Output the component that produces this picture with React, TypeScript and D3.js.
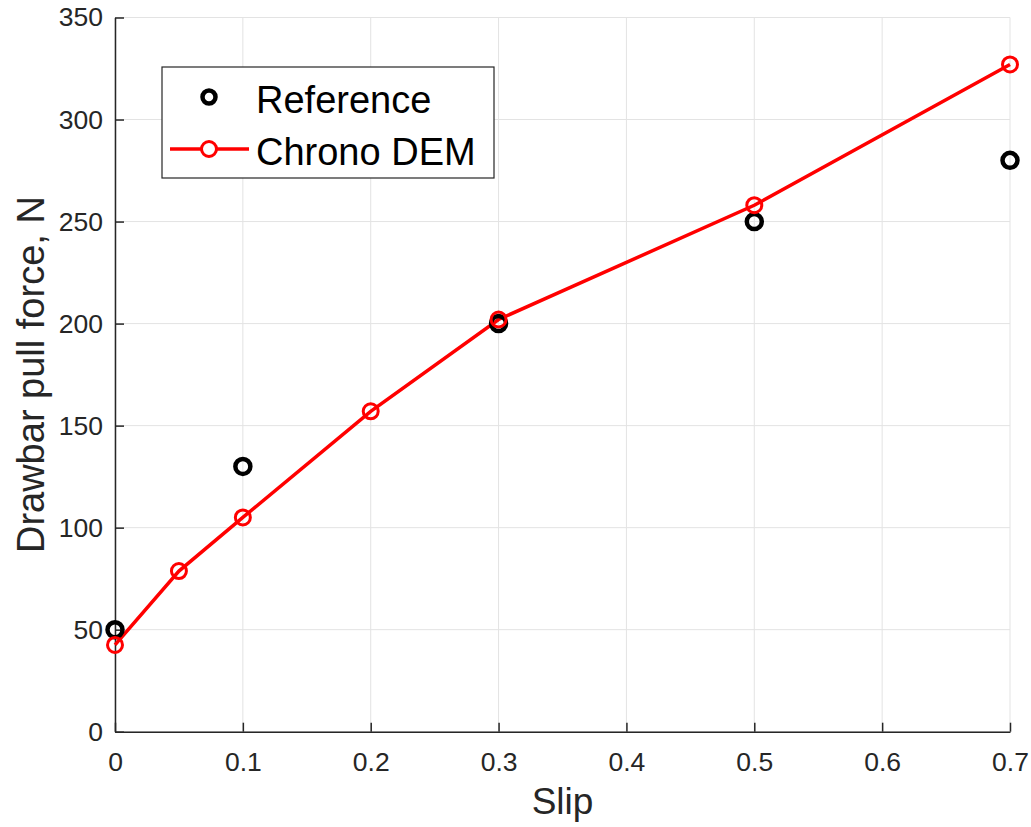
import React, { useEffect, useRef } from 'react';
import * as d3 from 'd3';

// Reference (measured) points
const refSlip: number[] = [0, 0.1, 0.3, 0.5, 0.7];
const refForce: number[] = [50, 130, 200, 250, 280];

// Chrono DEM simulation
const demSlip: number[] = [0, 0.05, 0.1, 0.2, 0.3, 0.5, 0.7];
const demForce: number[] = [42.5, 78.7, 105, 157, 202, 258, 327];

const xTicks: number[] = [0, 0.1, 0.2, 0.3, 0.4, 0.5, 0.6, 0.7];
const yTicks: number[] = [0, 50, 100, 150, 200, 250, 300, 350];

const legendLabels: string[] = ['Reference', 'Chrono DEM'];

const W = 1031;
const H = 827;

const App: React.FC = () => {
  const ref = useRef<SVGSVGElement | null>(null);

  useEffect(() => {
    const svg = d3.select(ref.current);
    svg.selectAll('*').remove();

    const left = 115, right = 1010, top = 17.5, bottom = 731.7;
    const x = d3.scaleLinear().domain([0, 0.7]).range([left, right]);
    const y = d3.scaleLinear().domain([0, 350]).range([bottom, top]);
    const font = 'Liberation Sans, Arial, Helvetica, sans-serif';
    const axisColor = '#262626';

    // grid
    const grid = svg.append('g');
    grid.selectAll('line.gx')
      .data(xTicks)
      .enter()
      .append('line')
      .attr('x1', d => x(d)).attr('x2', d => x(d))
      .attr('y1', top).attr('y2', bottom)
      .attr('stroke', '#e3e3e3').attr('stroke-width', 1);
    grid.selectAll('line.gy')
      .data(yTicks)
      .enter()
      .append('line')
      .attr('x1', left).attr('x2', right)
      .attr('y1', d => y(d)).attr('y2', d => y(d))
      .attr('stroke', '#e3e3e3').attr('stroke-width', 1);

    // axes
    const xAxis = d3.axisBottom(x).tickValues(xTicks).tickSizeInner(-9).tickSizeOuter(0)
      .tickPadding(20).tickFormat(d => String(d));
    const yAxis = d3.axisLeft(y).tickValues(yTicks).tickSizeInner(-9).tickSizeOuter(0)
      .tickPadding(12).tickFormat(d => String(d));

    const gx = svg.append('g').attr('transform', `translate(0,${bottom})`).call(xAxis);
    const gy = svg.append('g').attr('transform', `translate(${left},0)`).call(yAxis);
    [gx, gy].forEach(g => {
      g.select('.domain').attr('stroke', axisColor).attr('stroke-width', 1.5);
      g.selectAll('.tick line').attr('stroke', axisColor).attr('stroke-width', 1.5);
      g.selectAll('.tick text')
        .attr('fill', axisColor)
        .style('font-family', font)
        .style('font-size', '26.5px');
    });

    // axis labels
    svg.append('text')
      .attr('x', (left + right) / 2)
      .attr('y', 814)
      .attr('text-anchor', 'middle')
      .attr('fill', axisColor)
      .style('font-family', font)
      .style('font-size', '37px')
      .text('Slip');

    svg.append('text')
      .attr('transform', `translate(44,${(top + bottom) / 2}) rotate(-90)`)
      .attr('text-anchor', 'middle')
      .attr('fill', axisColor)
      .style('font-family', font)
      .style('font-size', '38px')
      .text('Drawbar pull force, N');

    // DEM line
    const line = d3.line<number>()
      .x((_, i) => x(demSlip[i]))
      .y(d => y(d));
    svg.append('path')
      .datum(demForce)
      .attr('d', line)
      .attr('fill', 'none')
      .attr('stroke', '#ff0000')
      .attr('stroke-width', 3.5);

    // reference markers
    svg.selectAll('circle.ref')
      .data(refForce)
      .enter()
      .append('circle')
      .attr('cx', (_, i) => x(refSlip[i]))
      .attr('cy', d => y(d))
      .attr('r', 7.5)
      .attr('fill', 'none')
      .attr('stroke', '#000')
      .attr('stroke-width', 4.5);

    // DEM markers
    svg.selectAll('circle.dem')
      .data(demForce)
      .enter()
      .append('circle')
      .attr('cx', (_, i) => x(demSlip[i]))
      .attr('cy', d => y(d))
      .attr('r', 7.5)
      .attr('fill', 'none')
      .attr('stroke', '#ff0000')
      .attr('stroke-width', 3);

    // legend
    const lg = svg.append('g');
    lg.append('rect')
      .attr('x', 162).attr('y', 67)
      .attr('width', 332).attr('height', 111)
      .attr('fill', '#fff')
      .attr('stroke', axisColor)
      .attr('stroke-width', 1.2);
    lg.append('circle')
      .attr('cx', 209).attr('cy', 97)
      .attr('r', 6.5)
      .attr('fill', 'none').attr('stroke', '#000').attr('stroke-width', 4.5);
    lg.append('line')
      .attr('x1', 170).attr('x2', 249)
      .attr('y1', 149).attr('y2', 149)
      .attr('stroke', '#ff0000').attr('stroke-width', 3.5);
    lg.append('circle')
      .attr('cx', 209).attr('cy', 149)
      .attr('r', 7.5)
      .attr('fill', '#fff').attr('stroke', '#ff0000').attr('stroke-width', 3);
    lg.selectAll('text')
      .data(legendLabels)
      .enter()
      .append('text')
      .attr('x', 256)
      .attr('y', (_, i) => 113 + i * 52)
      .attr('fill', '#000')
      .style('font-family', font)
      .style('font-size', '38px')
      .text(d => d);
  }, []);

  return (
    <svg ref={ref} width={W} height={H}
      style={{ position: 'absolute', left: 0, top: 0, background: '#fff' }} />
  );
};

export default App;
